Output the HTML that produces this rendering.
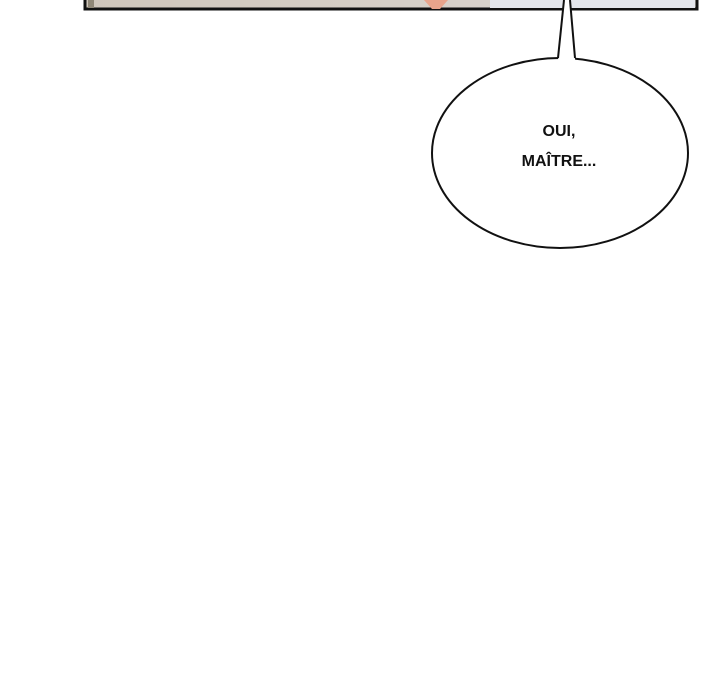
<!DOCTYPE html>
<html><head><style>
html,body{margin:0;padding:0;background:#fff;width:720px;height:700px;overflow:hidden;position:relative}
.t{position:absolute;font-family:"Liberation Sans",sans-serif;font-weight:bold;font-size:16px;color:#111;text-align:center;width:200px;left:459px;line-height:18px}
</style></head><body>
<svg width="720" height="700" style="position:absolute;left:0;top:0">
<defs><linearGradient id="g" x1="0" x2="1"><stop offset="0" stop-color="#cfc6bb"/><stop offset="0.5" stop-color="#d6cfc7"/><stop offset="1" stop-color="#dcd7d2"/></linearGradient></defs>
<rect x="85" y="-2" width="612" height="11" fill="url(#g)" stroke="#111" stroke-width="3"/>
<rect x="88" y="0" width="6" height="8" fill="#8f8777"/>
<polygon points="424,0 448,0 440,9 432,9" fill="#e8a48c"/>
<rect x="490" y="0" width="205" height="8" fill="#e4e6ec"/>
<ellipse cx="560" cy="153" rx="128" ry="95" fill="#fff" stroke="#111" stroke-width="2"/>
<polygon points="564,0 570,0 576,70 557,70" fill="#fff"/>
<line x1="564" y1="0" x2="558" y2="58" stroke="#111" stroke-width="2"/>
<line x1="570" y1="0" x2="575" y2="58" stroke="#111" stroke-width="2"/>
</svg>
<div class="t" style="top:123px">OUI,</div>
<div class="t" style="top:153px">MAÎTRE...</div>
</body></html>
